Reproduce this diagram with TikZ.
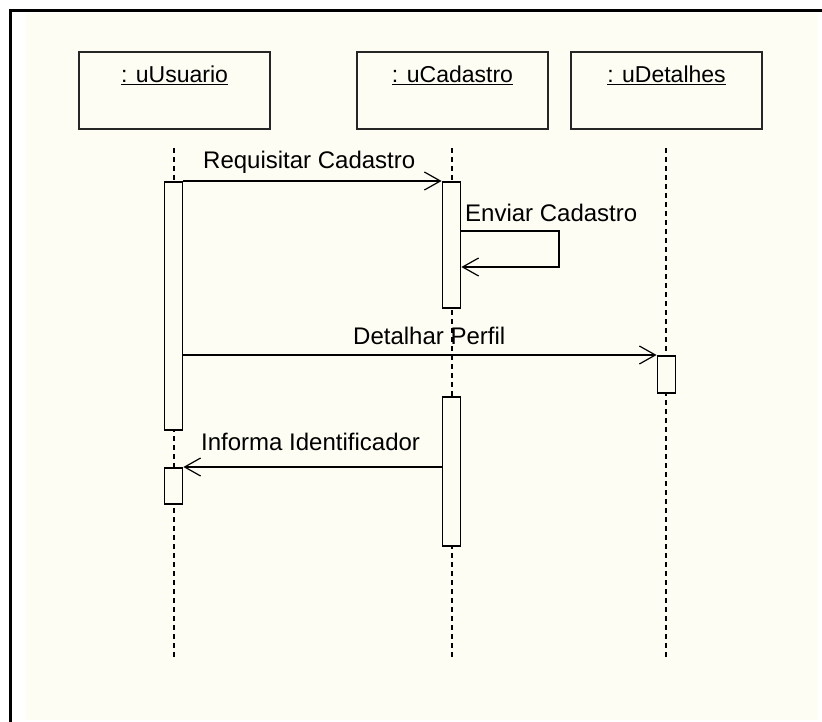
\documentclass[tikz,border=0pt]{standalone}
\usepackage{fontspec}
\setmainfont{Liberation Sans}
\usetikzlibrary{arrows.meta}
\definecolor{paper}{RGB}{253,253,243}
\tikzset{
  objbox/.style={draw=black!85, line width=2pt, fill=paper, minimum width=191pt,
    minimum height=77pt, inner sep=0pt},
  objlabel/.style={anchor=base, inner sep=0pt, font=\fontsize{23}{26}\selectfont},
  lifeline/.style={line width=1.7pt, dash pattern=on 5pt off 4pt},
  actbar/.style={draw=black, line width=1.8pt, fill=paper, minimum width=18pt, inner sep=0pt},
  msg/.style={line width=1.6pt, -{Straight Barb[length=16pt,width=18pt,line width=1.2pt]}},
  msglabel/.style={anchor=base west, inner sep=0pt, font=\fontsize{24}{28}\selectfont}
}
\begin{document}
\begin{tikzpicture}[x=1pt,y=-1pt]
\useasboundingbox (0,0) rectangle (822,722);
% sheet with its frame on the top and left
\fill[white] (0,0) rectangle (822,722);
\fill[paper] (26,13) rectangle (818,720);
\draw[line width=3pt] (10,722) -- (10,11) -- (822,11);

% object boxes
\node[objbox] (uu) at (174.5,90.5) {};
\node[objbox] (uc) at (452.5,90.5) {};
\node[objbox] (ud) at (666.5,90.5) {};
\node[objlabel] (uuL) at (174.5,83) {\underline{: uUsuario}};
\node[objlabel] (ucL) at (452.5,83) {\underline{: uCadastro}};
\node[objlabel] (udL) at (666.5,83) {\underline{: uDetalhes}};

% lifelines
\coordinate (uuTop) at (174,148);
\coordinate (uuEnd) at (174,658);
\coordinate (ucTop) at (452,148);
\coordinate (ucEnd) at (452,658);
\coordinate (udTop) at (666,148);
\coordinate (udEnd) at (666,658);
\draw[lifeline] (uuTop) -- (uuEnd);
\draw[lifeline] (ucTop) -- (ucEnd);
\draw[lifeline] (udTop) -- (udEnd);

% activation bars
\node[actbar, minimum height=248pt, anchor=north] (uuA) at (173.5,181) {};
\node[actbar, minimum height=36pt, anchor=north] (uuB) at (173.5,467) {};
\node[actbar, minimum height=126pt, anchor=north] (ucA) at (451.5,181) {};
\node[actbar, minimum height=149pt, anchor=north] (ucB) at (451.5,396) {};
\node[actbar, minimum height=37pt, anchor=north] (udA) at (666.5,355) {};

% messages
\draw[msg] (uuA.north east) -- (ucA.north west);
\coordinate (loopA) at (559,231);
\coordinate (loopB) at (559,267);
\draw[msg] (ucA.east |- loopA) -- (loopA) -- (loopB) -- (ucA.east |- loopB);
\draw[msg] (uuA.east |- udA.north) -- (udA.north west);
\draw[msg] (ucB.west |- uuB.north) -- (uuB.north east);

% message labels
\node[msglabel] (m1) at (203,169) {Requisitar Cadastro};
\node[msglabel] (m2) at (465,222) {Enviar Cadastro};
\node[msglabel] (m3) at (353,344) {Detalhar Perfil};
\node[msglabel] (m4) at (201,450) {Informa Identificador};
\end{tikzpicture}
\end{document}
